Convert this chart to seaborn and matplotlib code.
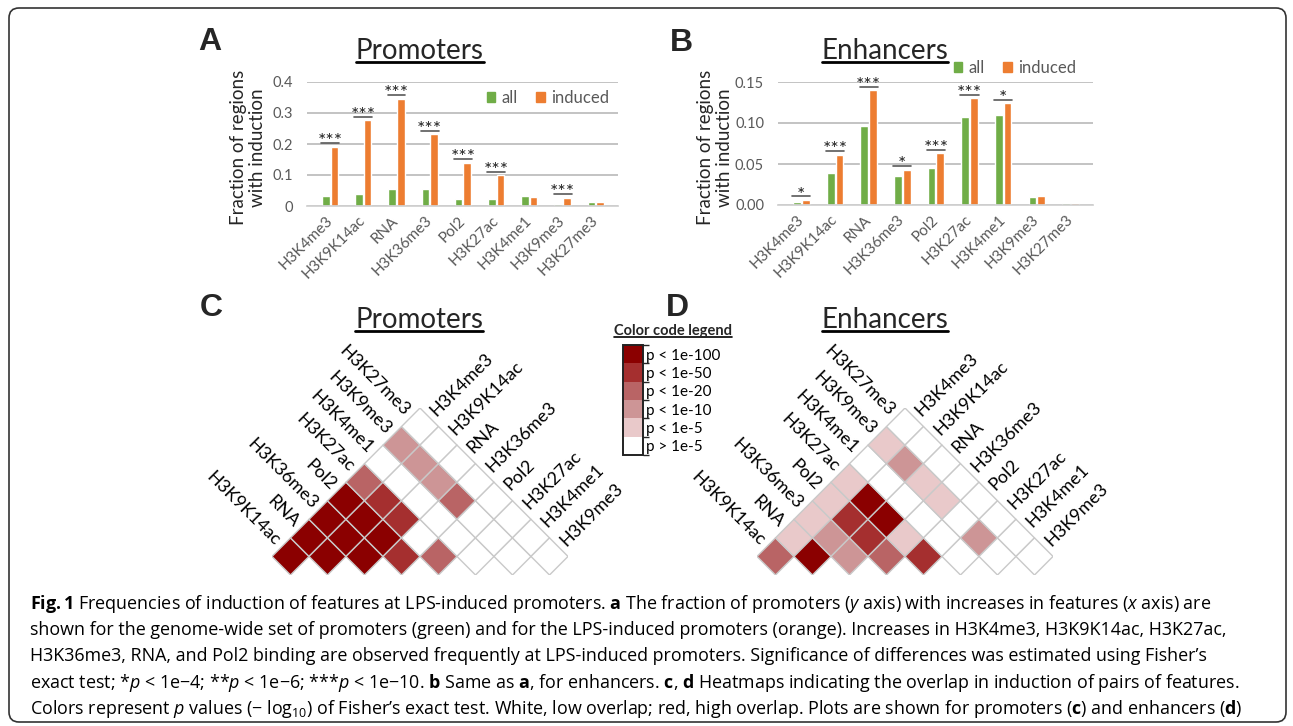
import numpy as np
import pandas as pd
import seaborn as sns
import matplotlib
matplotlib.use('Agg')
import matplotlib.pyplot as plt
from matplotlib.colors import ListedColormap, BoundaryNorm
from matplotlib.patches import Patch, FancyBboxPatch
from matplotlib.lines import Line2D
from matplotlib.transforms import IdentityTransform
from matplotlib.cm import ScalarMappable

features = ['H3K4me3', 'H3K9K14ac', 'RNA', 'H3K36me3', 'Pol2',
            'H3K27ac', 'H3K4me1', 'H3K9me3', 'H3K27me3']

# panel A / B : fraction of regions with induction
prom_all = [0.032, 0.040, 0.056, 0.054, 0.022, 0.021, 0.032, 0.006, 0.014]
prom_induced = [0.190, 0.276, 0.345, 0.231, 0.139, 0.099, 0.030, 0.026, 0.013]
prom_stars = ['***', '***', '***', '***', '***', '***', '', '***', '']

enh_all = [0.004, 0.039, 0.0965, 0.035, 0.045, 0.107, 0.110, 0.0097, 0.002]
enh_induced = [0.006, 0.061, 0.140, 0.043, 0.063, 0.130, 0.124, 0.011, 0.0025]
enh_stars = ['*', '***', '***', '*', '***', '***', '*', '', '']

# panel C / D : overlap levels, row i = features[i+1] against features[0..i]
# 0: p > 1e-5, 1: p < 1e-5, 2: p < 1e-10, 3: p < 1e-20, 4: p < 1e-50, 5: p < 1e-100
prom_levels = [[5],
               [5, 5],
               [5, 5, 5],
               [5, 5, 5, 4],
               [3, 4, 4, 0, 3],
               [0, 0, 0, 0, 0, 0],
               [2, 2, 2, 3, 0, 0, 0],
               [0, 0, 0, 0, 0, 0, 0, 0]]
enh_levels = [[3],
              [1, 5],
              [1, 2, 2],
              [1, 4, 4, 3],
              [1, 5, 5, 1, 4],
              [0, 0, 0, 0, 0, 0],
              [1, 2, 1, 1, 0, 2, 0],
              [0, 0, 0, 0, 0, 0, 0, 0]]
level_labels = ['p > 1e-5', 'p < 1e-5', 'p < 1e-10', 'p < 1e-20', 'p < 1e-50', 'p < 1e-100']
level_colors = ['#ffffff', '#e9c9ca', '#cd9596', '#b96465', '#a52f2f', '#8b0000']

caption = [
    r"$\mathbf{Fig.1}$ Frequencies of induction of features at LPS-induced promoters. $\mathbf{a}$ The fraction of promoters ($\mathit{y}$ axis) with increases in features ($\mathit{x}$ axis) are",
    "shown for the genome-wide set of promoters (green) and for the LPS-induced promoters (orange). Increases in H3K4me3, H3K9K14ac, H3K27ac,",
    "H3K36me3, RNA, and Pol2 binding are observed frequently at LPS-induced promoters. Significance of differences was estimated using Fisher\u2019s",
    r"exact test; *$\mathit{p}$ < 1e$-$4; **$\mathit{p}$ < 1e$-$6; ***$\mathit{p}$ < 1e$-$10. $\mathbf{b}$ Same as $\mathbf{a}$, for enhancers. $\mathbf{c}$, $\mathbf{d}$ Heatmaps indicating the overlap in induction of pairs of features.",
    r"Colors represent $\mathit{p}$ values ($-$ $\mathrm{log}_{10}$) of Fisher’s exact test. White, low overlap; red, high overlap. Plots are shown for promoters ($\mathbf{c}$) and enhancers ($\mathbf{d}$)",
]
caption_right = [1277, 1270, 1263, 1277, 1235]

GREEN = '#70ad47'
ORANGE = '#ed7d31'
GREY = '#595959'

sns.set_theme(style='white')
plt.rcParams['font.family'] = ['Lato', 'DejaVu Sans']
plt.rcParams['mathtext.fontset'] = 'custom'
plt.rcParams['mathtext.rm'] = 'Open Sans'
plt.rcParams['mathtext.it'] = 'Open Sans:italic'
plt.rcParams['mathtext.bf'] = 'Open Sans:bold'

W, H = 1293, 726
fig = plt.figure(figsize=(W / 100, H / 100), dpi=100)
fig.patch.set_facecolor('white')


def fx(x):
    return x / W


def fy(y):
    return 1 - y / H


def px_axes(l, t, r, b):
    return fig.add_axes([l / W, 1 - b / H, (r - l) / W, (b - t) / H])


cmap = ListedColormap(level_colors)
norm = BoundaryNorm(np.arange(7), cmap.N)
underlined = []


def title(x, y, s, size, weight='normal', gap=2.5, lw=2.0):
    t = fig.text(fx(x), fy(y), s, ha='center', va='baseline', fontsize=size, fontweight=weight)
    underlined.append((t, y + gap, lw))


def bar_panel(ax, all_vals, ind_vals, stars, ymax, ticks, ticklabels, leg_anchor, ylab_x):
    df = pd.DataFrame({'feature': features * 2,
                       'group': ['all'] * len(features) + ['induced'] * len(features),
                       'value': list(all_vals) + list(ind_vals)})
    sns.barplot(data=df, x='feature', y='value', hue='group', palette=[GREEN, ORANGE],
                saturation=1, width=0.52, gap=0.12, errorbar=None, legend=False, ax=ax)
    ax.set_ylim(0, ymax)
    ax.set_yticks(ticks)
    ax.set_yticklabels(ticklabels)
    ax.set_xlabel('')
    ax.set_ylabel('')
    ax.yaxis.grid(True, color='#b3b3b3', lw=1.1)
    ax.set_axisbelow(True)
    for s in ['left', 'top', 'right']:
        ax.spines[s].set_visible(False)
    ax.spines['bottom'].set_color('#d0d0d0')
    ax.tick_params(axis='both', length=0, colors=GREY)
    ax.tick_params(axis='y', pad=10, labelsize=10.5)
    ax.tick_params(axis='x', pad=9, labelsize=11)
    for lab in ax.get_xticklabels():
        lab.set_rotation(45)
        lab.set_ha('right')
        lab.set_va('center')
        lab.set_rotation_mode('anchor')
    off = ymax * 0.03
    for i, s in enumerate(stars):
        if not s:
            continue
        top = max(all_vals[i], ind_vals[i]) + off
        ax.plot([i - 0.27, i + 0.27], [top, top], color=GREY, lw=1.2, clip_on=False)
        ax.annotate(s, (i, top), xytext=(0, 1.0), textcoords='offset points',
                    ha='center', va='center', fontsize=14, color='#222222')
    handles = [Patch(color=GREEN, label='all'), Patch(color=ORANGE, label='induced')]
    ax.legend(handles=handles, ncol=2, loc='center right', bbox_to_anchor=leg_anchor,
              frameon=False, fontsize=12, handlelength=0.5, handleheight=0.5,
              handletextpad=0.4, columnspacing=1.1, labelcolor=GREY, borderaxespad=0)
    ax.text(ylab_x, 0.47, 'Fraction of regions\nwith induction', transform=ax.transAxes,
            rotation=90, ha='center', va='center', fontsize=13.5, linespacing=1.15)


def tri_heatmap(ax, levels):
    n = len(levels)
    grid = np.full((n, n), np.nan)
    for r, row in enumerate(levels):
        grid[r, :len(row)] = row
    a, b = np.meshgrid(np.arange(n + 1), np.arange(n + 1), indexing='ij')
    ax.pcolor(a + b, a - b, np.ma.masked_invalid(grid), cmap=cmap, norm=norm,
              edgecolors='#c9c9c9', linewidth=1.0)
    ax.set_xlim(0, 2 * n)
    ax.set_ylim(-1, n)
    ax.axis('off')
    pad = 0.2
    for r, lab in enumerate(features[1:]):
        ax.text(r + 0.5 - pad, r + 0.5 + pad, lab, rotation=-45, ha='right', va='center',
                rotation_mode='anchor', fontsize=13, color='black', clip_on=False)
    for c, lab in enumerate(features[:-1]):
        ax.text(n + 0.5 + c + pad, n - 0.5 - c + pad, lab, rotation=45, ha='left', va='center',
                rotation_mode='anchor', fontsize=13, color='black', clip_on=False)


# A
ax_a = px_axes(307, 82, 618, 206)
bar_panel(ax_a, prom_all, prom_induced, prom_stars, 0.4, [0, 0.1, 0.2, 0.3, 0.4],
          ['0', '0.1', '0.2', '0.3', '0.4'], (0.994, 0.871), -0.191)
# B
ax_b = px_axes(778, 82, 1093, 205)
bar_panel(ax_b, enh_all, enh_induced, enh_stars, 0.15, [0, 0.05, 0.10, 0.15],
          ['0.00', '0.05', '0.10', '0.15'], (0.968, 1.114), -0.2)

# C / D
ax_c = px_axes(272, 408, 568, 575)
tri_heatmap(ax_c, prom_levels)
ax_d = px_axes(757, 408, 1053, 575)
tri_heatmap(ax_d, enh_levels)

# colour code legend
cax = px_axes(623, 345, 643, 455)
cb = fig.colorbar(ScalarMappable(norm=norm, cmap=cmap), cax=cax, ticks=np.arange(6) + 0.5)
cb.set_ticklabels(level_labels)
cb.ax.tick_params(length=0, pad=2, labelsize=11, colors='black')
cb.outline.set_linewidth(1.4)
cb.outline.set_edgecolor('#222222')
title(673, 335, 'Color code legend', 10.5, weight='bold', gap=1.5, lw=1.2)

# titles and panel letters
title(420, 59, 'Promoters', 20)
title(885, 59, 'Enhancers', 20)
title(419, 328, 'Promoters', 20)
title(885, 328, 'Enhancers', 20)
for letter, x, y in [('A', 210, 50), ('B', 681, 51), ('C', 211, 316), ('D', 677, 316)]:
    fig.text(fx(x), fy(y), letter, ha='center', va='baseline', fontsize=23,
             fontweight='bold', family=['Liberation Sans', 'DejaVu Sans'])

# caption: one font size for all lines, chosen so no line runs past its end in the reference
cap_size = 12.0
cap_texts = [fig.text(fx(30), fy(609 + 26.2 * i), line, ha='left', va='baseline',
                      fontsize=cap_size, family=['Open Sans', 'DejaVu Sans'], color='black')
             for i, line in enumerate(caption)]
for _ in range(2):
    fig.canvas.draw()
    renderer = fig.canvas.get_renderer()
    ratios = [(right - 30) / t.get_window_extent(renderer).width
              for t, right in zip(cap_texts, caption_right)]
    cap_size *= min(ratios)
    for t in cap_texts:
        t.set_fontsize(cap_size)

# frame
fig.add_artist(FancyBboxPatch((9, H - 722), 1277, 714, boxstyle='round,pad=0,rounding_size=10',
                              transform=IdentityTransform(), fill=False, edgecolor='#333333', lw=1.2))

fig.canvas.draw()
renderer = fig.canvas.get_renderer()
for t, y, lw in underlined:
    bb = t.get_window_extent(renderer)
    fig.add_artist(Line2D([fx(bb.x0), fx(bb.x1)], [fy(y), fy(y)], color='black', lw=lw,
                          transform=fig.transFigure))

fig.savefig('out.png', dpi=100)
